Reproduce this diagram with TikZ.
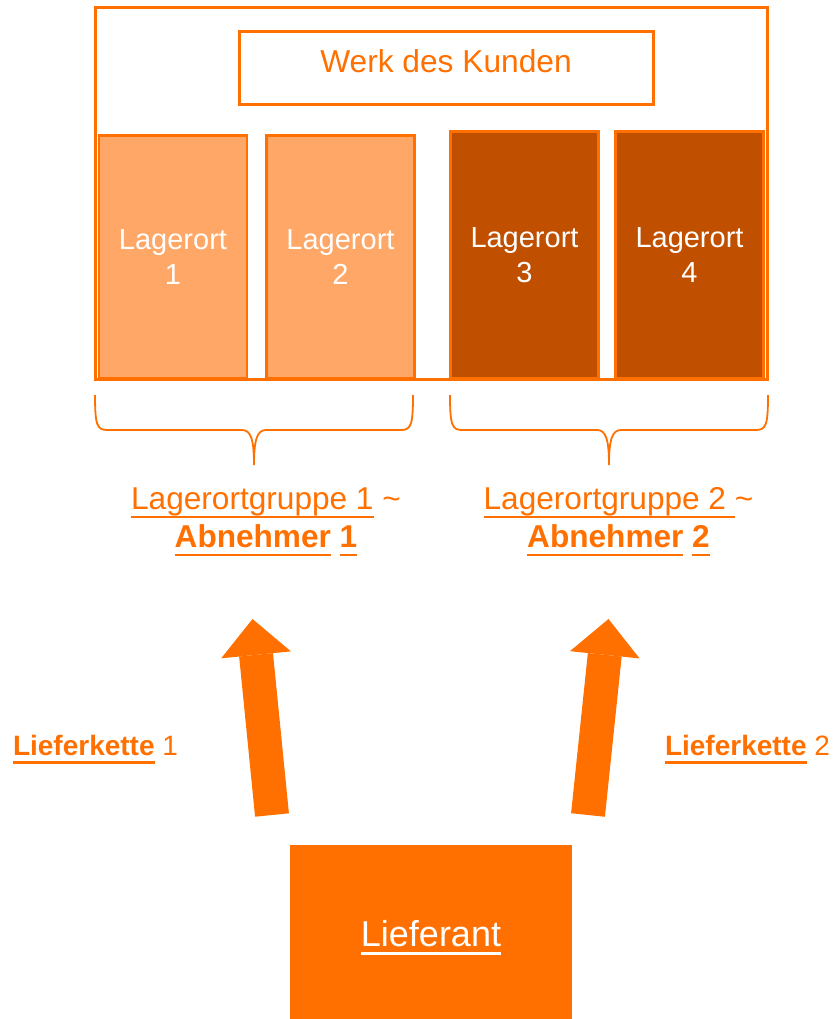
\documentclass[tikz,border=0pt]{standalone}
\usepackage{fontspec}
\setmainfont{Liberation Sans}
\newsavebox{\ustrichbox}
\newcommand{\ustrich}[1]{\sbox{\ustrichbox}{#1}\rlap{\rule[-8.5pt]{\wd\ustrichbox}{2.3pt}}\usebox{\ustrichbox}}
\definecolor{kundeorange}{RGB}{255,112,0}
\definecolor{lagerhell}{RGB}{255,167,102}
\definecolor{lagerdunkel}{RGB}{192,80,0}
\usetikzlibrary{calc,arrows.meta}

\begin{document}
\begin{tikzpicture}[x=1pt,y=-1pt,
    rahmen/.style={draw=kundeorange, line width=3pt},
    lagerbox/.style={draw=kundeorange, line width=2.5pt, minimum width=148pt,
      text=white, align=center, font=\fontsize{29}{35}\selectfont},
    klammer/.style={kundeorange, line width=1.8pt},
    gruppe/.style={kundeorange, align=center, inner sep=0pt, text depth=0pt, font=\fontsize{31.6}{38}\selectfont},
    kette/.style={kundeorange, inner sep=0pt, text depth=0pt, font=\fontsize{28}{34}\selectfont},
    lieferpfeil/.style={kundeorange, line width=34pt, -{Triangle[length=36pt,width=70pt,line width=0pt]}}]
  \useasboundingbox (0,0) rectangle (837,1019);

  \draw[rahmen] (95,8) rectangle (767,379);
  \node[rahmen, minimum width=414pt, minimum height=73pt, kundeorange, text height=23pt, text depth=14pt,
    font=\fontsize{31.7}{38}\selectfont] (kunde) at (446,68.5) {Werk des Kunden};

  \foreach \n/\x/\y/\h/\farbe in {1/173/257/243/lagerhell, 2/340.5/257/243/lagerhell,
      3/524.5/255/247/lagerdunkel, 4/689.5/255/247/lagerdunkel}
    \node[lagerbox, fill=\farbe, minimum height=\h pt] (lager\n) at (\x,\y) {Lagerort\\\n};

  \foreach \a/\b in {95/413, 450/768} {
    \pgfmathsetmacro\m{(\a+\b)/2}
    \draw[klammer] (\a,395) .. controls (\a,425) and (\a+2,430) .. (\a+12,430) -- (\m-12,430)
      .. controls (\m-3,430) and (\m,440) .. (\m,465) .. controls (\m,440) and (\m+3,430) .. (\m+12,430)
      -- (\b-12,430) .. controls (\b-2,430) and (\b,425) .. (\b,395);
  }

  \node[gruppe] (gruppe1) at (266,517.5) {\ustrich{Lagerortgruppe 1} \textasciitilde\\\textbf{\ustrich{Abnehmer} \ustrich{1}}};
  \node[gruppe] (gruppe2) at (618.5,517.5) {\ustrich{Lagerortgruppe 2 }\textasciitilde\\\textbf{\ustrich{Abnehmer} \ustrich{2}}};

  \coordinate (fuss1) at (272,815);
  \coordinate (spitze1) at (252.5,619);
  \coordinate (fuss2) at (588,815);
  \coordinate (spitze2) at (608.5,619);
  \draw[lieferpfeil] (fuss1) -- (spitze1);
  \draw[lieferpfeil] (fuss2) -- (spitze2);

  \node[kette] (kette1) at (95.5,745) {\ustrich{\textbf{Lieferkette}} 1};
  \node[kette] (kette2) at (747.5,745) {\ustrich{\textbf{Lieferkette}} 2};

  \node[fill=kundeorange, minimum width=282pt, minimum height=176pt, text=white, text depth=0pt,
    font=\fontsize{36}{42}\selectfont] (lieferant) at (431,933) {\ustrich{Lieferant}};
\end{tikzpicture}
\end{document}
